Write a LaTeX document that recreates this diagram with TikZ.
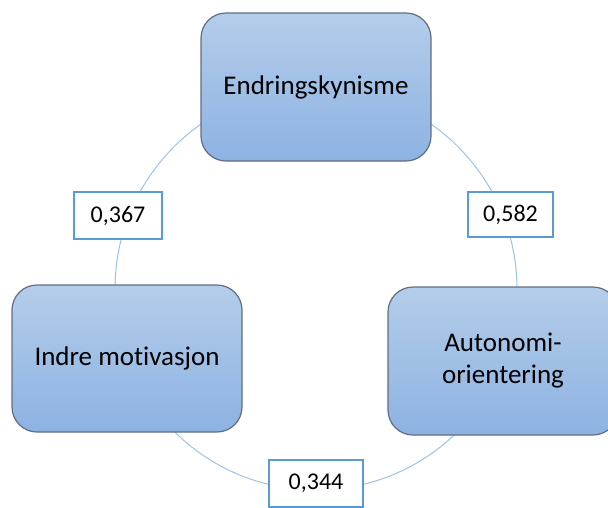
\documentclass[tikz,border=0pt]{standalone}
\usepackage{fontspec}
\setmainfont[Ligatures=NoCommon]{Carlito}
\definecolor{boxtop}{RGB}{180,205,234}
\definecolor{boxbot}{RGB}{141,178,226}
\definecolor{boxline}{RGB}{95,110,130}
\definecolor{ringline}{RGB}{157,195,230}
\definecolor{lblline}{RGB}{91,155,213}
\tikzset{
  bigbox/.style={draw=boxline, line width=1.2pt, rounded corners=25pt,
    top color=boxtop, bottom color=boxbot, minimum width=230pt, minimum height=148pt,
    inner sep=0pt, align=center, font=\fontsize{27}{32}\selectfont, text=black},
  lbl/.style={draw=lblline, line width=1.6pt, fill=white, inner sep=0pt,
    font=\fontsize{24}{28}\selectfont, text=black},
  ring/.style={draw=ringline, line width=1pt}
}
\begin{document}
\begin{tikzpicture}[x=1pt,y=-1pt]
\useasboundingbox (0,0) rectangle (608,507);
\clip (0,0) rectangle (608,507);
\coordinate (c) at (316,289);
\draw[ring] (c) circle[radius=201];
\node[bigbox] (e) at (316,87) {Endringskynisme};
\node[bigbox, minimum height=147pt] (i) at (127,358.5) {Indre motivasjon};
\node[bigbox] (a) at (503,361) {Autonomi-\\orientering};
\node[lbl, minimum width=88pt, minimum height=47pt] (l1) at (118,215.5) {0,367};
\node[lbl, minimum width=85pt, minimum height=45pt] (l2) at (510.5,214.5) {0,582};
\node[lbl, minimum width=94pt, minimum height=47pt] (l3) at (316,483.5) {0,344};
\end{tikzpicture}
\end{document}
